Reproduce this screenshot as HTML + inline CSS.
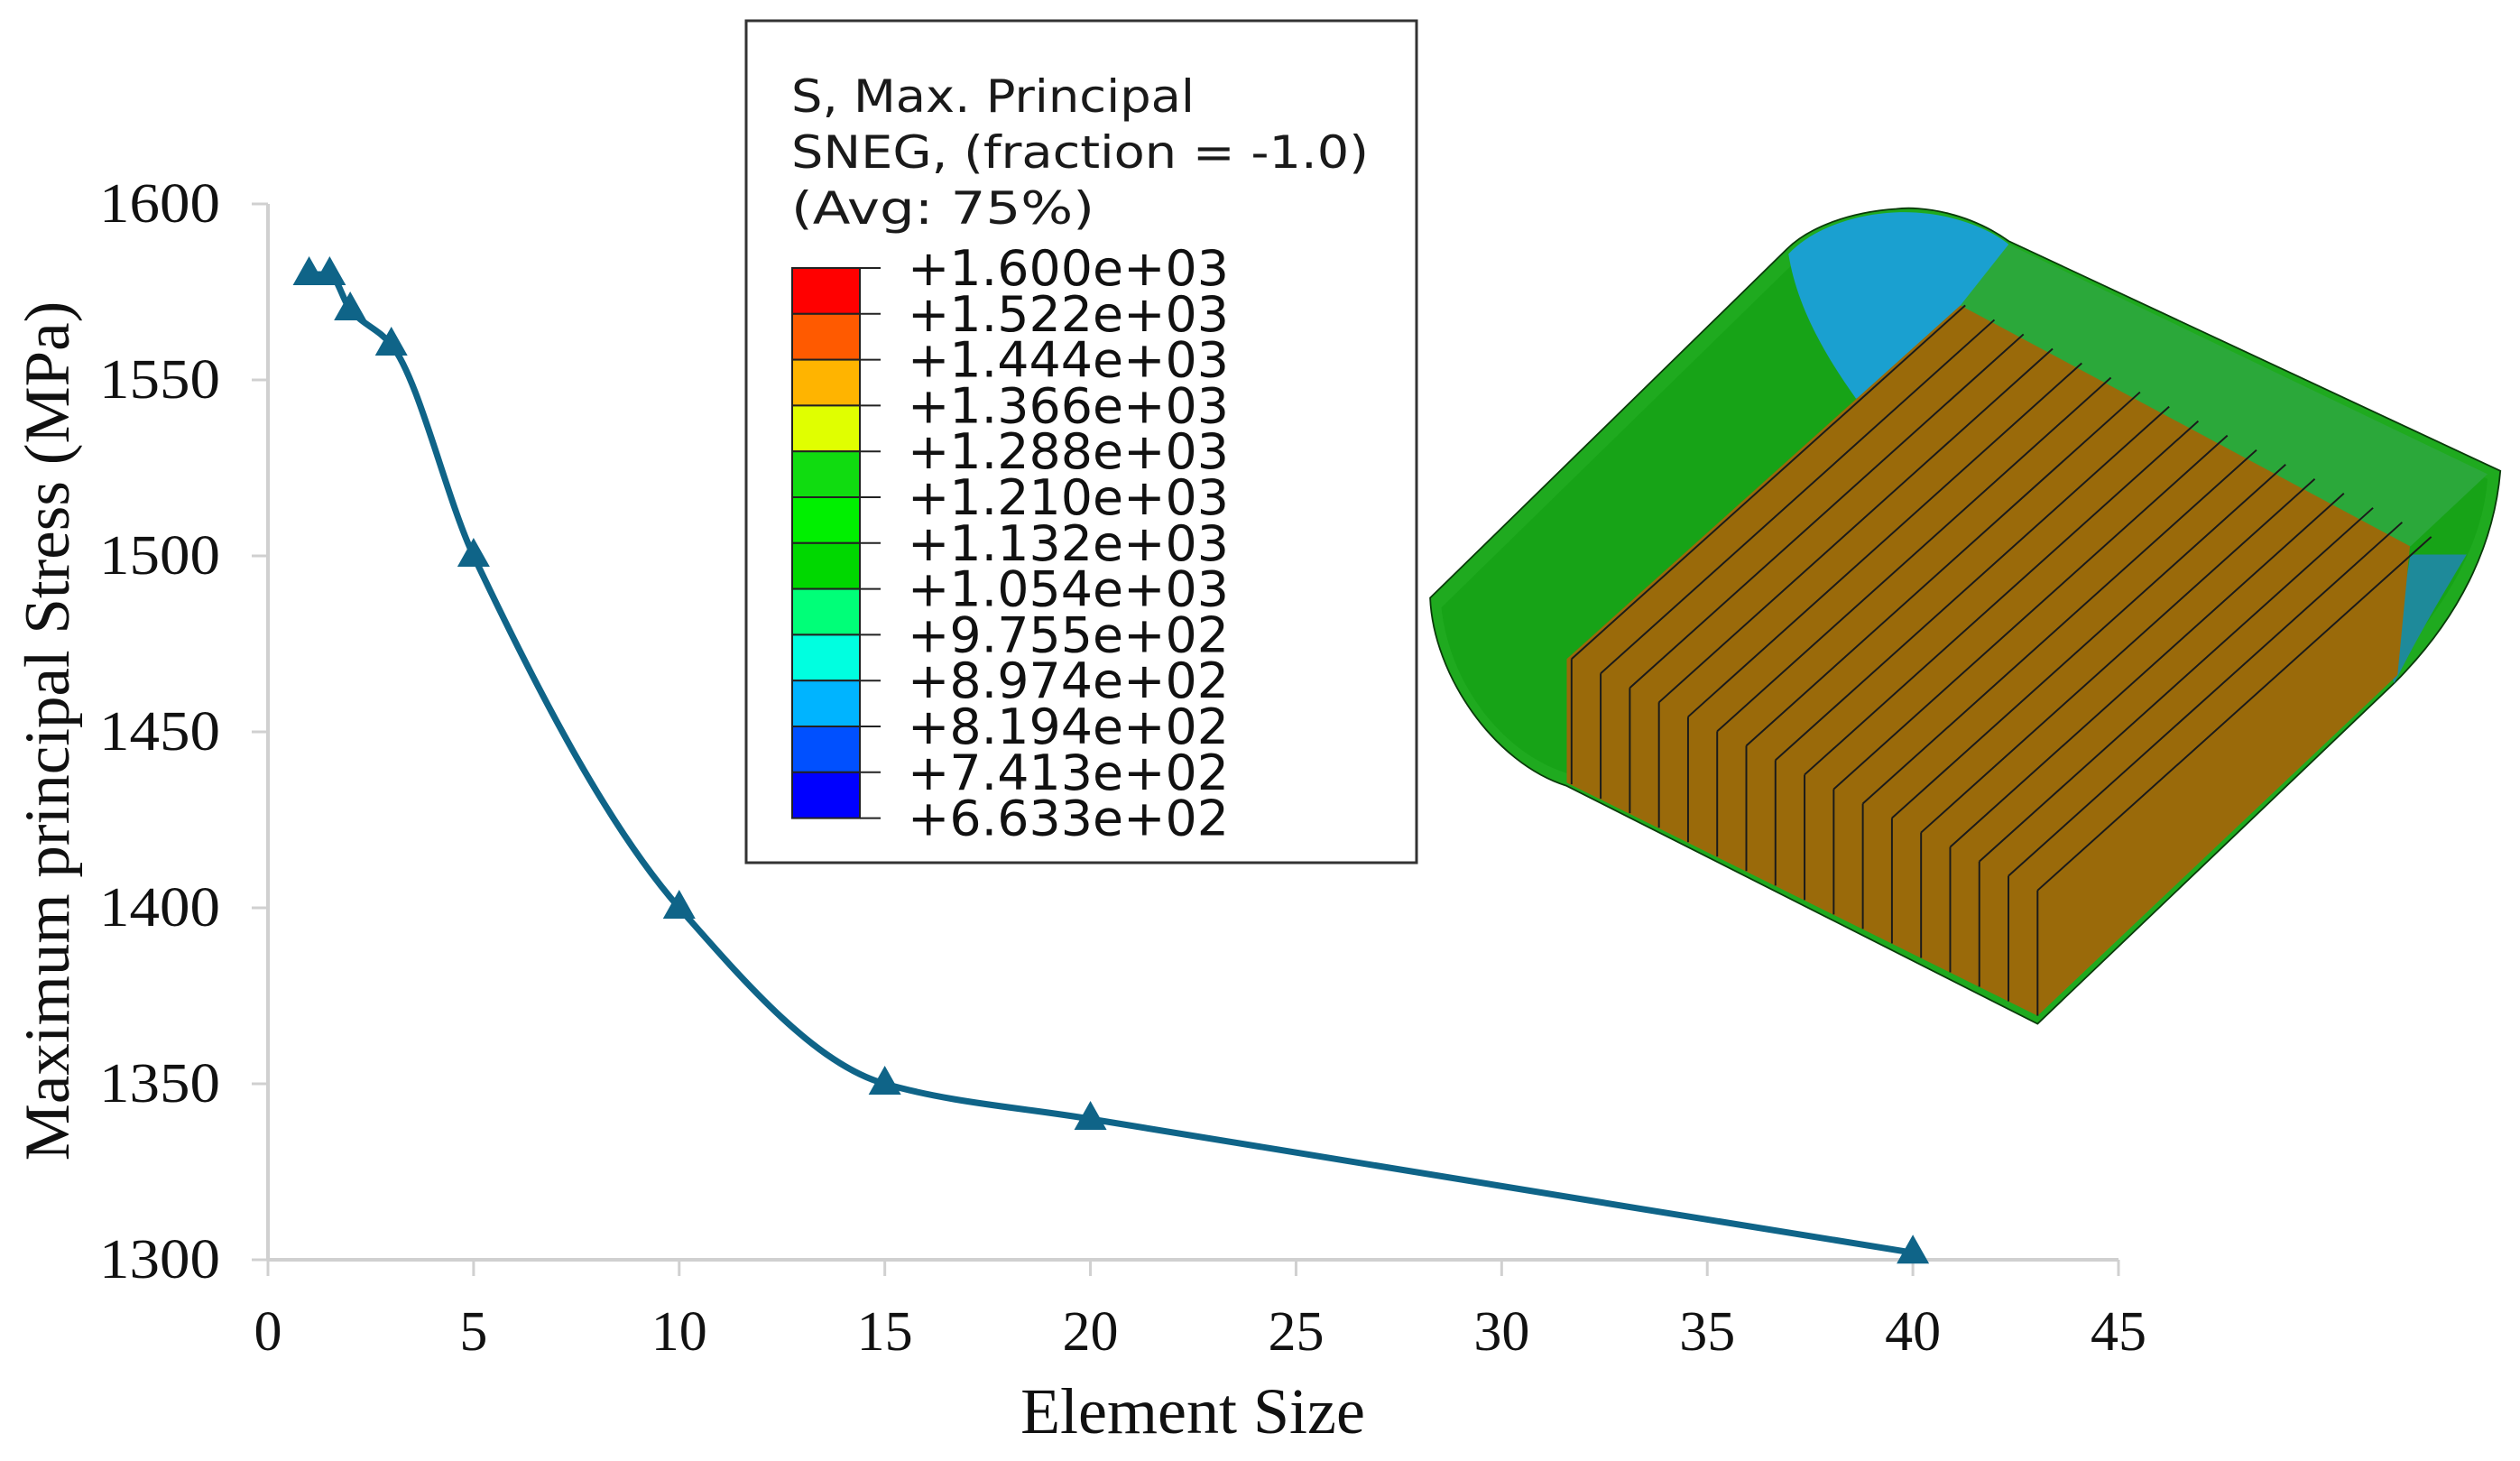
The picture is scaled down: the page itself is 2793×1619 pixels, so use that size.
<!DOCTYPE html>
<html><head><meta charset="utf-8"><style>
html,body{margin:0;padding:0;background:#fff;}
svg{display:block;}
</style></head><body>
<svg id="chart" width="2793" height="1619" viewBox="0 0 2793 1619" xmlns="http://www.w3.org/2000/svg">
  <g id="model" transform="scale(1.781)">
    <path d="M890,372 C892,420 930,475 975,489 L1268,637 L1490,425 C1530,385 1552,340 1556,293 L1250,150 C1225,132 1195,128 1180,130 C1150,132 1125,142 1112,155 Z" fill="#1faa1f" stroke="#0a3a0a" stroke-width="1"/>
    <path d="M897,378 C902,425 935,470 978,482 L1265,625 L1485,418 C1520,380 1545,340 1548,298 L1248,158 L1118,162 Z" fill="#17a317"/>
    <path d="M1113,158 C1130,140 1160,132 1185,132 C1210,132 1235,140 1250,152 C1242,180 1215,210 1195,225 C1175,238 1160,246 1155,248 C1135,220 1118,190 1113,158 Z" fill="#1aa0d0"/>
    <path d="M1490,425 C1505,395 1520,370 1535,345 L1500,345 L1488,420 Z" fill="#1e8a9a"/>
    <path d="M975,410 L1220,190 L1500,337 L1492,420 L1268,632 L975,487 Z" fill="#9a6a0a"/>
    <path d="M1220,190 L1250,152 L1548,295 L1500,340 Z" fill="#2ba83a"/>
    <g id="fins" stroke="#1a1a1a" stroke-width="1.1"></g>
  </g>
  <g id="legend">
    <rect x="827" y="23" width="743" height="933" fill="#fff" stroke="#333" stroke-width="3"/>
    <text x="877" y="124" font-family="DejaVu Sans, sans-serif" font-size="50" fill="#1a1a1a" textLength="447" lengthAdjust="spacingAndGlyphs">S, Max. Principal</text>
    <text x="877" y="186" font-family="DejaVu Sans, sans-serif" font-size="50" fill="#1a1a1a" textLength="640" lengthAdjust="spacingAndGlyphs">SNEG, (fraction = -1.0)</text>
    <text x="877" y="248" font-family="DejaVu Sans, sans-serif" font-size="50" fill="#1a1a1a" textLength="336" lengthAdjust="spacingAndGlyphs">(Avg: 75%)</text>
    <g id="cbar"></g>
  </g>
  <g id="plot"></g>
</svg>
<script>
const xValues = [1, 1.5, 2, 3, 5, 10, 15, 20, 40];
const yValues = [1580, 1580, 1570, 1560, 1500, 1400, 1350, 1340, 1302];
const xTicks = [0, 5, 10, 15, 20, 25, 30, 35, 40, 45];
const yTicks = [1300, 1350, 1400, 1450, 1500, 1550, 1600];
const legendLabels = ["+1.600e+03","+1.522e+03","+1.444e+03","+1.366e+03","+1.288e+03","+1.210e+03","+1.132e+03","+1.054e+03","+9.755e+02","+8.974e+02","+8.194e+02","+7.413e+02","+6.633e+02"];
const legendColors = ["#ff0000","#ff5a00","#ffb400","#e0ff00","#10dc10","#00f000","#00d800","#00ff78","#00ffe0","#00b4ff","#0050ff","#0000ff"];

const NS = "http://www.w3.org/2000/svg";
const X0 = 297, X1 = 2348, Y0 = 1396, Y1 = 226;
function sx(v){ return X0 + (v - 0) / 45 * (X1 - X0); }
function sy(v){ return Y0 - (v - 1300) / 300 * (Y0 - Y1); }
function mk(tag, attrs, parent){ const e = document.createElementNS(NS, tag); for (const k in attrs) e.setAttribute(k, attrs[k]); parent.appendChild(e); return e; }

const plot = document.getElementById('plot');
let ya = mk('line', {x1:X0, y1:Y1, x2:X0, y2:Y0, stroke:'#d0d0d0', 'stroke-width':4}, plot);


let xa = mk('line', {x1:X0, y1:Y0, x2:X1, y2:Y0, stroke:'#d0d0d0', 'stroke-width':4}, plot);


yTicks.forEach(t => {
  const tk = mk('line', {x1:X0-18, y1:sy(t), x2:X0, y2:sy(t), stroke:'#d0d0d0', 'stroke-width':3}, plot);
  
  
  const tx = mk('text', {x:244, y:sy(t)+20, 'text-anchor':'end', 'font-family':'Liberation Serif, serif', 'font-size':62, fill:'#111', textLength:134, lengthAdjust:'spacingAndGlyphs'}, plot);
  tx.textContent = t;
  
  
});
xTicks.forEach(t => {
  const tx = mk('text', {x:sx(t), y:1496, 'text-anchor':'middle', 'font-family':'Liberation Serif, serif', 'font-size':62, fill:'#111'}, plot);
  tx.textContent = t;
  
  
  const tk = mk('line', {x1:sx(t), y1:Y0, x2:sx(t), y2:Y0+18, stroke:'#d0d0d0', 'stroke-width':3}, plot);
  
  
});
let xt = mk('text', {x:1322, y:1588, 'text-anchor':'middle', 'font-family':'Liberation Serif, serif', 'font-size':72, fill:'#111'}, plot);
xt.textContent = 'Element Size';


let yt = mk('text', {x:0, y:0, 'text-anchor':'middle', 'font-family':'Liberation Serif, serif', 'font-size':71, fill:'#111', transform:'translate(76,810) rotate(-90)'}, plot);
yt.textContent = 'Maximum principal Stress (MPa)';



// monotone cubic (Fritsch-Carlson) through data in data space
const n = xValues.length;
const dx = [], dy = [], m = [];
for (let i=0;i<n-1;i++){ dx.push(xValues[i+1]-xValues[i]); dy.push((yValues[i+1]-yValues[i])/dx[i]); }
for (let i=0;i<n;i++){
  if (i===0) m.push(dy[0]); else if (i===n-1) m.push(dy[n-2]);
  else if (dy[i-1]*dy[i] <= 0) m.push(0);
  else { const w1 = 2*dx[i]+dx[i-1], w2 = dx[i]+2*dx[i-1]; m.push((w1+w2)/(w1/dy[i-1]+w2/dy[i])); }
}
let d = 'M' + sx(xValues[0]) + ',' + sy(yValues[0]);
for (let i=0;i<n-1;i++){
  const h = dx[i];
  const c1x = xValues[i]+h/3, c1y = yValues[i]+m[i]*h/3;
  const c2x = xValues[i+1]-h/3, c2y = yValues[i+1]-m[i+1]*h/3;
  d += ' C'+sx(c1x)+','+sy(c1y)+' '+sx(c2x)+','+sy(c2y)+' '+sx(xValues[i+1])+','+sy(yValues[i+1]);
}
let line = mk('path', {d:d, fill:'none', stroke:'#0f6488', 'stroke-width':7}, plot);


xValues.forEach((x,i) => {
  const px = sx(x), py = sy(yValues[i]);
  const tri = mk('polygon', {points:px+','+(py-20)+' '+(px-18)+','+(py+12)+' '+(px+18)+','+(py+12), fill:'#0f6488'}, plot);
  
  
});

// legend color bar
const cbar = document.getElementById('cbar');
const bx = 878, bw = 75, by = 297, bh = 50.8;
legendColors.forEach((c,i) => {
  const r = mk('rect', {x:bx, y:by+i*bh, width:bw, height:bh, fill:c, stroke:'#222', 'stroke-width':2}, cbar);
  
  
});
legendLabels.forEach((l,i) => {
  const ln = mk('line', {x1:bx+bw, y1:by+i*bh, x2:976, y2:by+i*bh, stroke:'#222', 'stroke-width':2}, cbar);
  
  
  const tx = mk('text', {x:1006, y:by+i*bh+19, 'font-family':'DejaVu Sans, sans-serif', 'font-size':54, fill:'#111', textLength:356, lengthAdjust:'spacingAndGlyphs'}, cbar);
  tx.textContent = l;
  
  
});

// fin lines on model
const fins = document.getElementById('fins');
for (let i=0;i<17;i++){
  const f = i/16;
  const bxp = 978 + f*(1268-978), byp = 488 + f*(632-488);
  const l1 = mk('line', {x1:bxp, y1:byp-78, x2:bxp+245, y2:byp-298}, fins);
  
  
  const l2 = mk('line', {x1:bxp, y1:byp, x2:bxp, y2:byp-78}, fins);
  
  
}
</script>
</body></html>
